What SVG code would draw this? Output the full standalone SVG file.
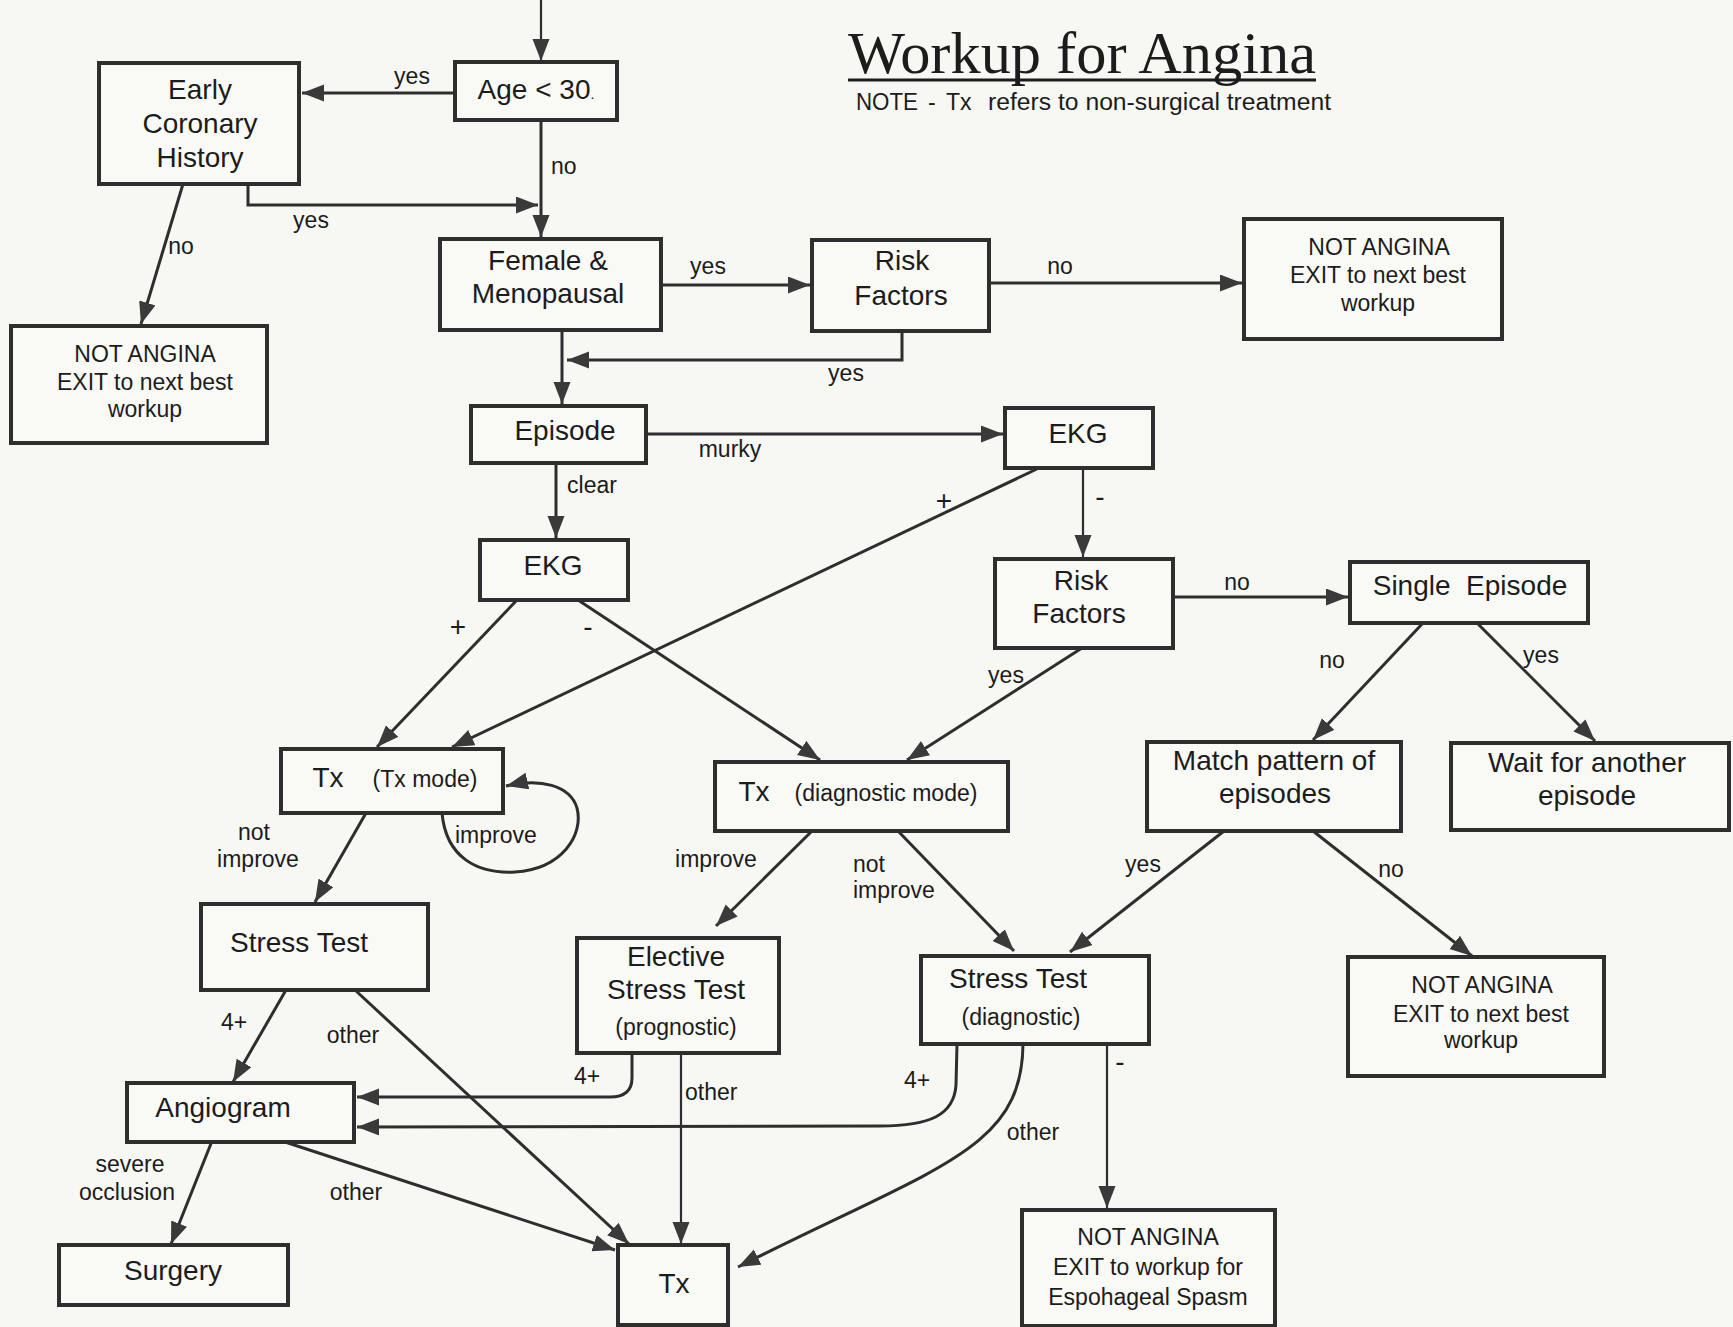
<svg xmlns="http://www.w3.org/2000/svg" width="1733" height="1327" viewBox="0 0 1733 1327">
<style>
.bg{fill:#f7f7f3}
.box{fill:#f9f9f6;stroke:#2e2e2e;stroke-width:4}
.ln{fill:none;stroke:#2e2e2e;stroke-width:3;marker-end:url(#ah)}
.thin{stroke-width:2.2}
.t{font-family:"Liberation Sans",Arial,sans-serif;font-size:28px;fill:#1c1c1c;text-anchor:middle}
.s{font-size:23px}
.lb{font-family:"Liberation Sans",Arial,sans-serif;font-size:23px;fill:#1c1c1c;text-anchor:middle}
.pm{font-size:28px}
.st{text-anchor:start}
</style>
<defs>
<marker id="ah" markerUnits="userSpaceOnUse" markerWidth="24" markerHeight="18" refX="22" refY="8.5" orient="auto">
<path d="M0,0 L22,8.5 L0,17 Z" fill="#3a3a3a"/>
</marker>
</defs>
<rect class="bg" x="0" y="0" width="1733" height="1327"/>

<g id="title">
<text x="848" y="73" font-family="'Liberation Serif','Times New Roman',serif" font-size="59" fill="#1c1c1c" textLength="468" lengthAdjust="spacingAndGlyphs">Workup for Angina</text>
<line x1="848" y1="80" x2="1316" y2="80" stroke="#1c1c1c" stroke-width="3"/>
<text class="lb st" x="856" y="110" font-size="24" textLength="62" lengthAdjust="spacingAndGlyphs">NOTE</text>
<text class="lb st" x="928" y="110">-</text>
<text class="lb st" x="946" y="110" font-size="24">Tx</text>
<text class="lb st" x="988" y="110" font-size="24" textLength="343" lengthAdjust="spacingAndGlyphs">refers to non-surgical treatment</text>
</g>

<g id="connectors">
<path class="ln thin" d="M541 0 L541 61"/>
<path class="ln" d="M455 93 L302 93"/>
<path class="ln" d="M541 120 L541 237"/>
<path class="ln" d="M248 184 L248 205 L538 205"/>
<path class="ln" d="M183 184 L141 324"/>
<path class="ln" d="M661 285 L810 285"/>
<path class="ln" d="M989 283 L1242 283"/>
<path class="ln" d="M902 331 L902 360 L567 360"/>
<path class="ln" d="M562 330 L562 404"/>
<path class="ln" d="M646 434 L1003 434"/>
<path class="ln" d="M556 463 L556 538"/>
<path class="ln thin" d="M1083 468 L1083 557"/>
<path class="ln" d="M1039 468 L452 747"/>
<path class="ln" d="M517 600 L377 747"/>
<path class="ln" d="M578 600 L820 760"/>
<path class="ln" d="M1082 648 L907 760"/>
<path class="ln" d="M1173 597 L1348 597"/>
<path class="ln" d="M1423 623 L1313 740"/>
<path class="ln" d="M1477 623 L1595 741"/>
<path class="ln" d="M366 813 L315 902"/>
<path class="ln" d="M442 813 C446 858 478 874 515 872 C562 869 584 835 577 808 C570 785 540 778 506 786"/>
<path class="ln" d="M812 831 L716 926"/>
<path class="ln" d="M898 831 L1014 951"/>
<path class="ln" d="M1224 831 L1070 952"/>
<path class="ln" d="M1313 831 L1472 956"/>
<path class="ln" d="M286 990 L233 1082"/>
<path class="ln" d="M355 990 L629 1244"/>
<path class="ln" d="M632 1053 L632 1078 Q632 1097 610 1097 L357 1097"/>
<path class="ln thin" d="M681 1053 L681 1244"/>
<path class="ln" d="M957 1044 L956 1085 C954 1115 930 1126 880 1126 L357 1127"/>
<path class="ln" d="M1023 1044 C1022 1150 940 1165 738 1267"/>
<path class="ln thin" d="M1107 1044 L1107 1208"/>
<path class="ln" d="M212 1141 L171 1244"/>
<path class="ln" d="M282 1141 L615 1250"/>

<text class="lb" x="412" y="84">yes</text>
<text class="lb st" x="551" y="174">no</text>
<text class="lb" x="311" y="228">yes</text>
<text class="lb" x="181" y="254">no</text>
<text class="lb" x="708" y="274">yes</text>
<text class="lb" x="1060" y="274">no</text>
<text class="lb" x="846" y="381">yes</text>
<text class="lb" x="730" y="457">murky</text>
<text class="lb" x="592" y="493">clear</text>
<text class="lb pm" x="944" y="510">+</text>
<text class="lb pm" x="1100" y="506">-</text>
<text class="lb pm" x="458" y="636">+</text>
<text class="lb pm" x="588" y="636">-</text>
<text class="lb" x="1237" y="590">no</text>
<text class="lb" x="1006" y="683">yes</text>
<text class="lb" x="1332" y="668">no</text>
<text class="lb" x="1541" y="663">yes</text>
<text class="lb" x="254" y="840">not</text>
<text class="lb" x="258" y="867">improve</text>
<text class="lb st" x="455" y="843">improve</text>
<text class="lb" x="716" y="867">improve</text>
<text class="lb st" x="853" y="872">not</text>
<text class="lb st" x="853" y="898">improve</text>
<text class="lb" x="1143" y="872">yes</text>
<text class="lb" x="1391" y="877">no</text>
<text class="lb" x="234" y="1030">4+</text>
<text class="lb" x="353" y="1043">other</text>
<text class="lb" x="587" y="1084">4+</text>
<text class="lb st" x="685" y="1100">other</text>
<text class="lb" x="917" y="1088">4+</text>
<text class="lb" x="1033" y="1140">other</text>
<text class="lb pm" x="1120" y="1071">-</text>
<text class="lb" x="130" y="1172">severe</text>
<text class="lb" x="127" y="1200">occlusion</text>
<text class="lb" x="356" y="1200">other</text>
</g>

<g id="age"><rect class="box" x="455" y="62" width="162" height="58"/><text class="t" x="536" y="99">Age &lt; 30<tspan font-size="14">.</tspan></text></g>
<g id="early"><rect class="box" x="99" y="63" width="200" height="121"/><text class="t" x="200" y="99">Early</text><text class="t" x="200" y="133">Coronary</text><text class="t" x="200" y="167">History</text></g>
<g id="notangina1"><rect class="box" x="11" y="326" width="256" height="117"/><text class="t s" x="145" y="362">NOT ANGINA</text><text class="t s" x="145" y="390">EXIT to next best</text><text class="t s" x="145" y="417">workup</text></g>
<g id="female"><rect class="box" x="440" y="239" width="221" height="91"/><text class="t" x="548" y="270">Female &amp;</text><text class="t" x="548" y="303">Menopausal</text></g>
<g id="risk1"><rect class="box" x="812" y="240" width="177" height="91"/><text class="t" x="902" y="270">Risk</text><text class="t" x="901" y="305">Factors</text></g>
<g id="notangina2"><rect class="box" x="1244" y="219" width="258" height="120"/><text class="t s" x="1379" y="255">NOT ANGINA</text><text class="t s" x="1378" y="283">EXIT to next best</text><text class="t s" x="1378" y="311">workup</text></g>
<g id="episode"><rect class="box" x="471" y="406" width="175" height="57"/><text class="t" x="565" y="440">Episode</text></g>
<g id="ekg1"><rect class="box" x="1005" y="408" width="148" height="60"/><text class="t" x="1078" y="443">EKG</text></g>
<g id="ekg2"><rect class="box" x="480" y="540" width="148" height="60"/><text class="t" x="553" y="575">EKG</text></g>
<g id="risk2"><rect class="box" x="995" y="559" width="178" height="89"/><text class="t" x="1081" y="590">Risk</text><text class="t" x="1079" y="623">Factors</text></g>
<g id="single"><rect class="box" x="1350" y="562" width="238" height="61"/><text class="t" x="1470" y="595" xml:space="preserve">Single  Episode</text></g>
<g id="txmode"><rect class="box" x="281" y="749" width="222" height="64"/><text class="t" x="328" y="787">Tx</text><text class="t s" x="425" y="787">(Tx mode)</text></g>
<g id="txdiag"><rect class="box" x="715" y="762" width="293" height="69"/><text class="t" x="754" y="801">Tx</text><text class="t s" x="886" y="801">(diagnostic mode)</text></g>
<g id="match"><rect class="box" x="1147" y="742" width="254" height="89"/><text class="t" x="1274" y="770">Match pattern of</text><text class="t" x="1275" y="803">episodes</text></g>
<g id="wait"><rect class="box" x="1451" y="743" width="278" height="87"/><text class="t" x="1587" y="772">Wait for another</text><text class="t" x="1587" y="805">episode</text></g>
<g id="stress1"><rect class="box" x="201" y="904" width="227" height="86"/><text class="t" x="299" y="952">Stress Test</text></g>
<g id="elective"><rect class="box" x="577" y="938" width="202" height="115"/><text class="t" x="676" y="966">Elective</text><text class="t" x="676" y="999">Stress Test</text><text class="t s" x="676" y="1035">(prognostic)</text></g>
<g id="stress2"><rect class="box" x="921" y="956" width="228" height="88"/><text class="t" x="1018" y="988">Stress Test</text><text class="t s" x="1021" y="1025">(diagnostic)</text></g>
<g id="notangina3"><rect class="box" x="1348" y="957" width="256" height="119"/><text class="t s" x="1482" y="993">NOT ANGINA</text><text class="t s" x="1481" y="1022">EXIT to next best</text><text class="t s" x="1481" y="1048">workup</text></g>
<g id="angiogram"><rect class="box" x="127" y="1083" width="227" height="59"/><text class="t" x="223" y="1117">Angiogram</text></g>
<g id="surgery"><rect class="box" x="59" y="1245" width="229" height="60"/><text class="t" x="173" y="1280">Surgery</text></g>
<g id="txbottom"><rect class="box" x="618" y="1245" width="110" height="80"/><text class="t" x="674" y="1293">Tx</text></g>
<g id="notangina4"><rect class="box" x="1022" y="1210" width="253" height="116"/><text class="t s" x="1148" y="1245">NOT ANGINA</text><text class="t s" x="1148" y="1275">EXIT to workup for</text><text class="t s" x="1148" y="1305">Espohageal Spasm</text></g>
</svg>
